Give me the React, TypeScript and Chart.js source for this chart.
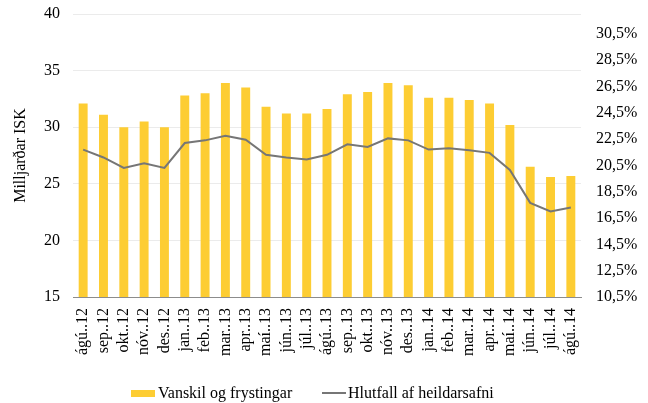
import React, { useEffect, useRef } from 'react';
import { Chart, registerables } from 'chart.js';

Chart.register(...registerables);

const categories = [
  'ágú..12', 'sep..12', 'okt..12', 'nóv..12', 'des..12',
  'jan..13', 'feb..13', 'mar..13', 'apr..13', 'maí..13', 'jún..13', 'júl..13', 'ágú..13',
  'sep..13', 'okt..13', 'nóv..13', 'des..13',
  'jan..14', 'feb..14', 'mar..14', 'apr..14', 'maí..14', 'jún..14', 'júl..14', 'ágú..14',
];

const vanskil = [
  32.1, 31.1, 30.0, 30.5, 30.0,
  32.8, 33.0, 33.9, 33.5, 31.8, 31.2, 31.2, 31.6,
  32.9, 33.1, 33.9, 33.7,
  32.6, 32.6, 32.4, 32.1, 30.2, 26.5, 25.6, 25.7,
];

const hlutfall = [
  21.7, 21.1, 20.3, 20.65, 20.3,
  22.2, 22.4, 22.75, 22.45, 21.3, 21.1, 20.95, 21.3,
  22.1, 21.9, 22.55, 22.4,
  21.7, 21.8, 21.65, 21.45, 20.15, 17.65, 17.0, 17.3,
];

const leftTicks = [15, 20, 25, 30, 35, 40];
const rightTicks = [10.5, 12.5, 14.5, 16.5, 18.5, 20.5, 22.5, 24.5, 26.5, 28.5, 30.5];

const FONT_FAMILY = "'Liberation Serif', 'Times New Roman', serif";
const BAR_COLOR = '#FDCD33';
const LINE_COLOR = '#767676';

export default function App() {
  const canvasRef = useRef<HTMLCanvasElement | null>(null);

  useEffect(() => {
    if (!canvasRef.current) return;
    const font = { family: FONT_FAMILY, size: 16 };
    const chart = new Chart(canvasRef.current, {
      type: 'bar',
      data: {
        labels: categories,
        datasets: [
          {
            type: 'line',
            label: 'Hlutfall af heildarsafni',
            data: hlutfall,
            borderColor: LINE_COLOR,
            backgroundColor: LINE_COLOR,
            borderWidth: 2,
            pointRadius: 0,
            tension: 0,
            yAxisID: 'y1',
            order: 0,
          },
          {
            type: 'bar',
            label: 'Vanskil og frystingar',
            data: vanskil,
            backgroundColor: BAR_COLOR,
            borderWidth: 0,
            barPercentage: 0.44,
            categoryPercentage: 1,
            yAxisID: 'y',
            order: 1,
          },
        ],
      },
      options: {
        responsive: false,
        animation: false,
        layout: { padding: { top: 14, bottom: 40, left: 0, right: 0 } },
        plugins: {
          legend: { display: false },
          tooltip: { enabled: false },
        },
        scales: {
          x: {
            grid: { display: false, drawTicks: false },
            border: { display: true, color: '#8c8c8c', width: 1 },
            ticks: {
              minRotation: 90,
              maxRotation: 90,
              autoSkip: false,
              padding: 11,
              font,
              color: '#000',
            },
            afterFit: (s: any) => {
              s.height = 403 - 297 - 40;
            },
          },
          y: {
            position: 'left',
            min: 15,
            max: 40,
            afterBuildTicks: (s: any) => {
              s.ticks = leftTicks.map((v) => ({ value: v }));
            },
            ticks: { padding: 13, font, color: '#000' },
            grid: { color: '#ebebeb', drawTicks: false },
            border: { display: false },
            title: {
              display: true,
              text: 'Milljarðar ISK',
              font,
              color: '#000',
              padding: { top: 11, bottom: 0 },
            },
            afterFit: (s: any) => {
              s.width = 73;
              s.paddingTop = 0;
              s.paddingBottom = 0;
            },
          },
          y1: {
            position: 'right',
            min: 10.5,
            max: 32,
            afterBuildTicks: (s: any) => {
              s.ticks = rightTicks.map((v) => ({ value: v }));
            },
            ticks: {
              padding: 15,
              font,
              color: '#000',
              callback: (v: any) => Number(v).toFixed(1).replace('.', ',') + '%',
            },
            grid: { display: false, drawTicks: false },
            border: { display: false },
            afterFit: (s: any) => {
              s.width = 648 - 581;
              s.paddingTop = 0;
              s.paddingBottom = 0;
            },
          },
        },
      } as any,
    });
    return () => chart.destroy();
  }, []);

  const textStyle: React.CSSProperties = {
    fontFamily: FONT_FAMILY,
    fontSize: 16,
    color: '#000',
    whiteSpace: 'nowrap',
  };

  return (
    <div style={{ position: 'absolute', left: 0, top: 0, width: 648, height: 403, background: '#fff' }}>
      <canvas ref={canvasRef} width={648} height={403} style={{ display: 'block' }} />
      <div style={{ position: 'absolute', left: 131, top: 384, height: 18, display: 'flex', alignItems: 'center' }}>
        <span style={{ display: 'inline-block', width: 24, height: 7, background: BAR_COLOR }} />
        <span style={{ ...textStyle, marginLeft: 3 }}>Vanskil og frystingar</span>
      </div>
      <div style={{ position: 'absolute', left: 322, top: 384, height: 18, display: 'flex', alignItems: 'center' }}>
        <span style={{ display: 'inline-block', width: 24, height: 2, background: LINE_COLOR }} />
        <span style={{ ...textStyle, marginLeft: 2 }}>Hlutfall af heildarsafni</span>
      </div>
    </div>
  );
}
